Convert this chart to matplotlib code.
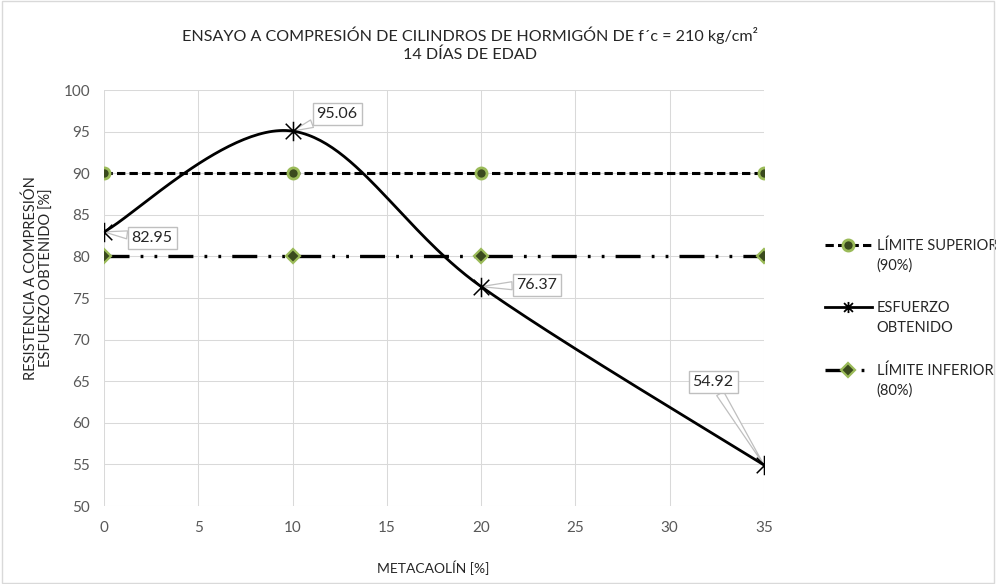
import numpy as np
import matplotlib.pyplot as plt
from matplotlib.path import Path
from matplotlib.patches import Rectangle

plt.rcParams['font.family'] = ['Lato', 'DejaVu Sans']
plt.rcParams['lines.scale_dashes'] = False

# ensayo a compresion, 14 dias
metacaolin = [0, 10, 20, 35]
esfuerzo = [82.95, 95.06, 76.37, 54.92]
lim_sup = [90, 90, 90, 90]
lim_inf = [80, 80, 80, 80]

etiquetas = ["82.95", "95.06", "76.37", "54.92"]
# donde va cada etiqueta (coordenadas de datos)
pos_etiq = [(2.55, 82.2), (12.36, 97.1), (22.96, 76.56), (32.3, 64.9)]

# leyenda: primera linea con el simbolo, segunda linea debajo
ley_1 = ['LÍMITE SUPERIOR', 'ESFUERZO', 'LÍMITE INFERIOR']
ley_2 = ['(90%)', 'OBTENIDO', '(80%)']

gris = '#595959'
verde = '#9bbb59'
verde_osc = '#3a4a1e'


def suavizar(x, y, ax, n=60):
    # curva suavizada tipo excel (bezier con tangentes de catmull-rom),
    # calculada en pixeles para respetar la escala de los ejes
    pts = ax.transData.transform(np.column_stack([x, y]))
    p = np.vstack([pts[0], pts, pts[-1]])
    t = np.linspace(0, 1, n)[:, None]
    out = []
    for i in range(1, len(p) - 2):
        p0, p1, p2, p3 = p[i - 1], p[i], p[i + 1], p[i + 2]
        c1 = p1 + (p2 - p0) / 6
        c2 = p2 - (p3 - p1) / 6
        seg = ((1 - t) ** 3 * p1 + 3 * (1 - t) ** 2 * t * c1
               + 3 * (1 - t) * t ** 2 * c2 + t ** 3 * p2)
        out.append(seg)
    out = ax.transData.inverted().transform(np.vstack(out))
    return out[:, 0], out[:, 1]


# marcador estrella: una x con una raya vertical
estrella = Path([(-1, -1), (1, 1), (-1, 1), (1, -1), (0, -1.25), (0, 1.25)],
                [Path.MOVETO, Path.LINETO, Path.MOVETO, Path.LINETO,
                 Path.MOVETO, Path.LINETO])

fig = plt.figure(figsize=(9.96, 5.84), dpi=100)
ax = fig.add_axes([104 / 996, 1 - 506 / 584, 660 / 996, 416 / 584])
ax.set_xlim(0, 35)
ax.set_ylim(50, 100)
ax.set_xticks(np.arange(0, 36, 5))
ax.set_yticks(np.arange(50, 101, 5))
ax.grid(True, color='#d9d9d9', linewidth=0.75)
ax.set_axisbelow(True)
for s in ax.spines.values():
    s.set_visible(False)
ax.tick_params(length=0, labelsize=11, colors=gris)
ax.tick_params(axis='x', pad=11)
ax.tick_params(axis='y', pad=10)

ax.plot(metacaolin, lim_sup, color='black', lw=2.2, dashes=(6, 3),
        marker='o', ms=8, mfc=verde_osc, mec=verde, mew=2,
        label=ley_1[0], zorder=3)

fig.canvas.draw()
xs, ys = suavizar(metacaolin, esfuerzo, ax)
ax.plot(xs, ys, color='black', lw=2, zorder=4)
ax.plot(metacaolin, esfuerzo, ls='none', marker=estrella, ms=14,
        mfc='none', mec='black', mew=1.1, zorder=5)
# solo para la leyenda
ax.plot([], [], color='black', lw=2, marker=estrella, ms=8, mfc='none',
        mec='black', mew=1.3, label=ley_1[1])

ax.plot(metacaolin, lim_inf, color='black', lw=2.4,
        dashes=(18, 8, 2, 8, 2, 8), marker='D', ms=7,
        mfc=verde_osc, mec=verde, mew=1.6,
        label=ley_1[2], zorder=3)

for x, y, txt, (tx, ty) in zip(metacaolin, esfuerzo, etiquetas, pos_etiq):
    ax.annotate(txt, xy=(x, y), xytext=(tx, ty), ha='center', va='center',
                fontsize=11.5, color='#262626', zorder=3.5,
                bbox=dict(boxstyle='square,pad=0.25', fc='white',
                          ec='#bfbfbf', lw=1),
                arrowprops=dict(arrowstyle='wedge,tail_width=0.5',
                                fc='white', ec='#bfbfbf', lw=0.9,
                                shrinkA=0, shrinkB=0))

leg = ax.legend(loc='center left', bbox_to_anchor=(825 / 996, 1 - 308 / 584),
                bbox_transform=fig.transFigure, frameon=False,
                fontsize=10.5, labelspacing=3.3, handlelength=3.2,
                handletextpad=0.35, borderpad=0, borderaxespad=0)
for t in leg.get_texts():
    t.set_color('#262626')

fig.canvas.draw()
inv = fig.transFigure.inverted()
for t, txt in zip(leg.get_texts(), ley_2):
    bb = t.get_window_extent()
    x0, yc = inv.transform((bb.x0, (bb.y0 + bb.y1) / 2 - 20))
    fig.text(x0, yc, txt, ha='left', va='center', fontsize=10.5,
             color='#262626')

fig.text(470 / 996, 1 - 35 / 584,
         'ENSAYO A COMPRESIÓN DE CILINDROS DE HORMIGÓN DE f´c = 210 kg/cm²',
         ha='center', va='center', fontsize=11.6, color='#262626')
fig.text(470 / 996, 1 - 55 / 584, '14 DÍAS DE EDAD',
         ha='center', va='center', fontsize=11.6, color='#262626')
fig.text(433 / 996, 1 - 568 / 584, 'METACAOLÍN [%]', ha='center',
         va='center', fontsize=10, color='#262626')
fig.text(39 / 996, 1 - 278 / 584,
         'RESISTENCIA A COMPRESIÓN\nESFUERZO OBTENIDO [%]', ha='center',
         va='center', rotation=90, fontsize=10.5, color='#262626',
         linespacing=1.15)

# borde del area del grafico
fig.patches.append(Rectangle((0.002, 0.002), 0.996, 0.996,
                             transform=fig.transFigure, fill=False,
                             ec='#d9d9d9', lw=1))

fig.savefig('out.png', dpi=100)
